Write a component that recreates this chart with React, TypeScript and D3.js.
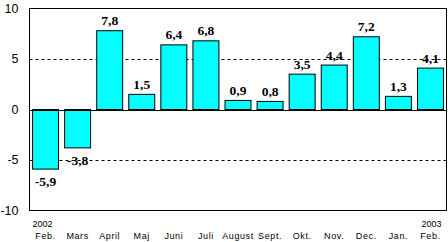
import React from "react";
import * as d3 from "d3";

const categories = ["Feb.", "Mars", "April", "Maj", "Juni", "Juli", "August", "Sept.", "Okt.", "Nov.", "Dec.", "Jan.", "Feb."];
const values = [-5.9, -3.8, 7.8, 1.5, 6.4, 6.8, 0.9, 0.8, 3.5, 4.4, 7.2, 1.3, 4.1];
const yearLabels = [{ index: 0, text: "2002" }, { index: 12, text: "2003" }];
const yTicks = [-10, -5, 0, 5, 10];
const gridValues = [-5, 5];

const W = 448;
const H = 242;
const M = { left: 29.5, right: 1.5, top: 8.5, bottom: 31.5 };

export default function App() {
  const x = d3
    .scaleBand<number>()
    .domain(d3.range(categories.length))
    .range([M.left, W - M.right])
    .paddingInner(0.19)
    .paddingOuter(0.095);
  const y = d3.scaleLinear().domain([-10, 10]).range([H - M.bottom, M.top]);
  const step = (W - M.right - M.left) / categories.length;
  const center = (i: number) => M.left + step * (i + 0.5);
  const fmt = (v: number) => v.toFixed(1).replace(".", ",");

  return (
    <svg
      width={W}
      height={H}
      style={{ position: "absolute", left: 0, top: 0, background: "#fff" }}
    >
      <rect x={0} y={0} width={W} height={H} fill="#fff" />
      {gridValues.map((g) => (
        <line
          key={g}
          x1={M.left}
          x2={W - M.right}
          y1={Math.round(y(g)) + 0.5}
          y2={Math.round(y(g)) + 0.5}
          stroke="#000"
          strokeDasharray="3,3"
        />
      ))}
      {values.map((v, i) => {
        const y0 = y(0);
        const y1 = y(v);
        return (
          <rect
            key={i}
            x={x(i)!}
            y={Math.min(y0, y1)}
            width={x.bandwidth()}
            height={Math.abs(y1 - y0)}
            fill="#00FFFF"
            stroke="#000"
            strokeWidth={1}
          />
        );
      })}
      <line
        x1={M.left}
        x2={W - M.right}
        y1={Math.round(y(0)) + 0.5}
        y2={Math.round(y(0)) + 0.5}
        stroke="#000"
      />
      <rect
        x={M.left}
        y={M.top}
        width={W - M.right - M.left}
        height={H - M.bottom - M.top}
        fill="none"
        stroke="#000"
      />
      {values.map((v, i) => (
        <text
          key={i}
          x={center(i)}
          y={v >= 0 ? y(v) - 5.5 : y(v) + 17}
          textAnchor="middle"
          fontFamily="'Liberation Serif', 'Times New Roman', serif"
          fontWeight="bold"
          fontSize={13.5}
          fill="#000"
        >
          {fmt(v)}
        </text>
      ))}
      {yTicks.map((t) => (
        <text
          key={t}
          x={18.5}
          y={y(t)}
          dy="0.35em"
          textAnchor="end"
          fontFamily="'Liberation Sans', Arial, sans-serif"
          fontSize={12.5}
          fill="#000"
        >
          {t}
        </text>
      ))}
      {categories.map((c, i) => (
        <text
          key={i}
          x={center(i)}
          y={238.5}
          textAnchor="middle"
          fontFamily="'Liberation Sans', Arial, sans-serif"
          fontSize={9}
          letterSpacing={0.6}
          fill="#000"
        >
          {c}
        </text>
      ))}
      {yearLabels.map((yl) => (
        <text
          key={yl.text}
          x={center(yl.index) + (yl.index === 0 ? -3 : 1)}
          y={227}
          textAnchor="middle"
          fontFamily="'Liberation Sans', Arial, sans-serif"
          fontSize={9}
          fill="#000"
        >
          {yl.text}
        </text>
      ))}
    </svg>
  );
}
